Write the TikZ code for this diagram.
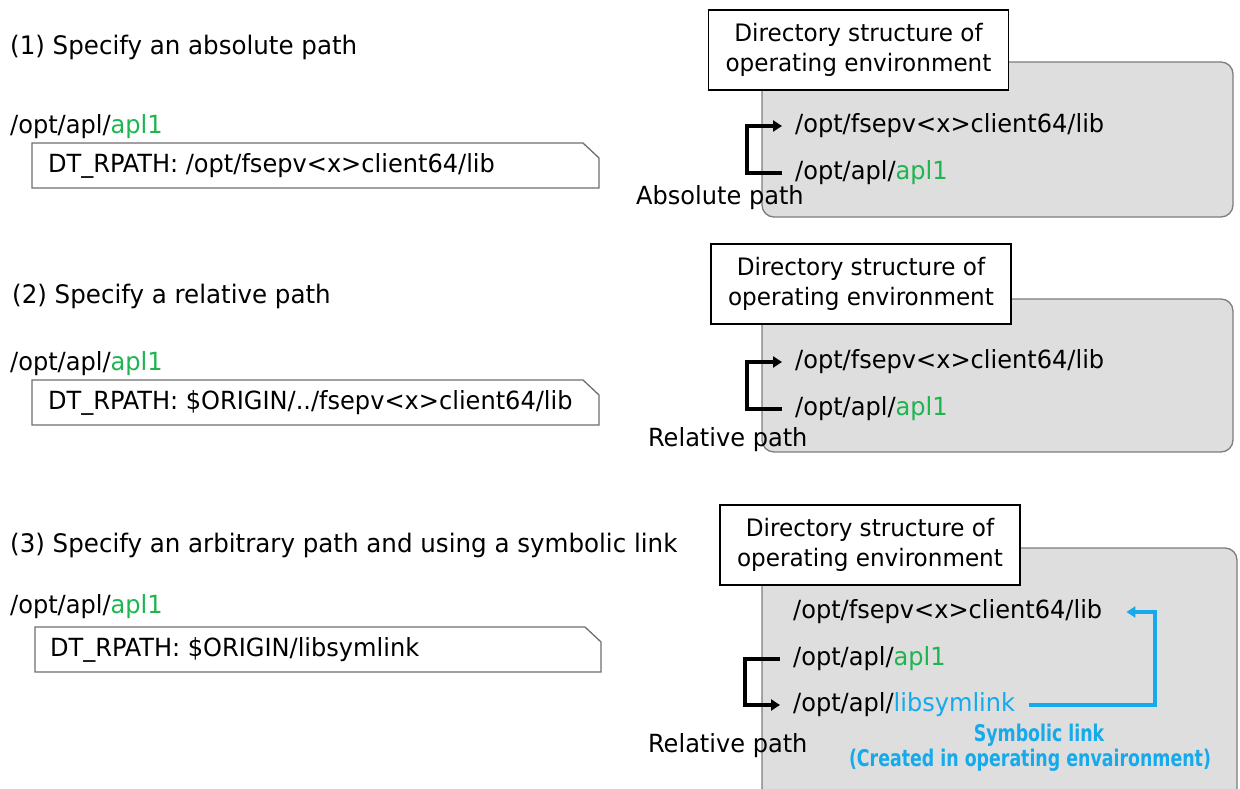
\documentclass[tikz,border=0pt]{standalone}
\usepackage{fontspec}
\setmainfont{DejaVu Sans Condensed}[FakeStretch=1.07]
\newfontfamily\linkfont{DejaVu Sans Condensed}[FakeStretch=0.84]
\usetikzlibrary{arrows.meta}
\definecolor{aplgreen}{RGB}{30,180,80}
\definecolor{linkblue}{RGB}{20,170,235}
\definecolor{panelgray}{RGB}{222,222,222}
\definecolor{panelborder}{RGB}{125,125,125}
\definecolor{boxborder}{RGB}{110,110,110}
\begin{document}
\begin{tikzpicture}[x=1pt,y=-1pt,
  txt/.style={anchor=west,inner sep=0pt,font=\fontsize{25}{30}\selectfont},
  title/.style={txt,font=\fontsize{25.5}{30}\selectfont},
  labelbox/.style={draw=black,line width=1.5pt,fill=white,inner sep=0pt,minimum width=300pt,minimum height=80pt,align=center,font=\fontsize{24}{30}\selectfont},
  panel/.style={draw=panelborder,line width=1.3pt,fill=panelgray,rounded corners=12pt},
  rpath/.style={draw=boxborder,line width=1.3pt,fill=white},
  brk/.style={line width=3.5pt,-{Triangle[length=9pt,width=11pt]}},
  symlink/.style={linkblue,line width=3.5pt,-{Triangle[length=9pt,width=11pt]}},
  linktxt/.style={inner sep=0pt,text=linkblue,font=\linkfont\bfseries\fontsize{23}{28}\selectfont}
]
\useasboundingbox (0,0) rectangle (1240,789);

% ---------- (1) ----------
\node[title] (t1) at (10,47) {(1) Specify an absolute path};
\node[txt] (p1) at (10,127) {/opt/apl/\textcolor{aplgreen}{apl1}};
\draw[rpath] (32,143) -- (583,143) -- (599,158) -- (599,188) -- (32,188) -- cycle;
\node[txt] (r1) at (48,166) {DT\_RPATH: /opt/fsepv<x>client64/lib};

\draw[panel] (762,62) rectangle (1233,217);
\node[labelbox] (d1) at (858.5,50) {Directory structure of\\operating environment};
\node[txt] (f1) at (795,126) {/opt/fsepv<x>client64/lib};
\node[txt] (a1) at (795,173) {/opt/apl/\textcolor{aplgreen}{apl1}};
\draw[brk] ([xshift=-13pt]a1.west) -- ++(-35,0) |- ([xshift=-13pt]f1.west);
\node[txt] (ab1) at (636,198) {Absolute path};

% ---------- (2) ----------
\node[title] (t2) at (12,296) {(2) Specify a relative path};
\node[txt] (p2) at (10,364) {/opt/apl/\textcolor{aplgreen}{apl1}};
\draw[rpath] (32,380) -- (583,380) -- (599,395) -- (599,425) -- (32,425) -- cycle;
\node[txt] (r2) at (48,403) {DT\_RPATH: \$ORIGIN/../fsepv<x>client64/lib};

\draw[panel] (762,299) rectangle (1233,452);
\node[labelbox] (d2) at (861,284) {Directory structure of\\operating environment};
\node[txt] (f2) at (795,362) {/opt/fsepv<x>client64/lib};
\node[txt] (a2) at (795,409) {/opt/apl/\textcolor{aplgreen}{apl1}};
\draw[brk] ([xshift=-13pt]a2.west) -- ++(-35,0) |- ([xshift=-13pt]f2.west);
\node[txt] (rl2) at (648,440) {Relative path};

% ---------- (3) ----------
\node[title] (t3) at (10,545) {(3) Specify an arbitrary path and using a symbolic link};
\node[txt] (p3) at (10,607) {/opt/apl/\textcolor{aplgreen}{apl1}};
\draw[rpath] (35,627) -- (585,627) -- (601,642) -- (601,672) -- (35,672) -- cycle;
\node[txt] (r3) at (50,650) {DT\_RPATH: \$ORIGIN/libsymlink};

\draw[panel] (762,548) rectangle (1237,800);
\node[labelbox] (d3) at (870,545) {Directory structure of\\operating environment};
\node[txt] (f3) at (793,612) {/opt/fsepv<x>client64/lib};
\node[txt] (a3) at (793,659) {/opt/apl/\textcolor{aplgreen}{apl1}};
\node[txt] (s3) at (793,705) {/opt/apl/\textcolor{linkblue}{libsymlink}};
\coordinate (cx) at (1155,0);
\draw[brk] ([xshift=-13pt]a3.west) -- ++(-35,0) |- ([xshift=-13pt]s3.west);
\draw[symlink] ([xshift=14pt]s3.east) -- (s3.east -| cx) |- ([xshift=24pt]f3.east);
\node[txt] (rl3) at (648,746) {Relative path};
\node[linktxt] (sl) at (1039,735) {Symbolic link};
\node[linktxt] (cr) at (1030,760) {(Created in operating envaironment)};
\end{tikzpicture}
\end{document}
